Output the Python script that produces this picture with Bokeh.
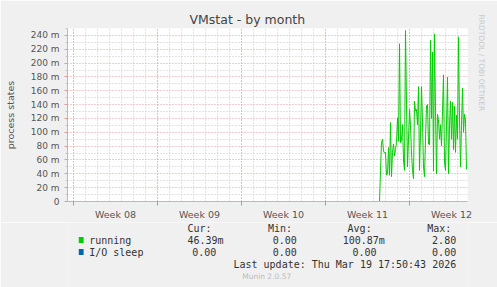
from bokeh.plotting import figure
from bokeh.models import (Range1d, LinearAxis, FixedTicker, Title)
from bokeh.layouts import column
from bokeh.core.properties import value
from bokeh.embed import file_html
from bokeh.resources import INLINE

# ---------------- data ----------------
title_text = "VMstat - by month"
y_label = "process states"
week_labels = ["Week 08", "Week 09", "Week 10", "Week 11", "Week 12"]
y_ticks = [0, 20, 40, 60, 80, 100, 120, 140, 160, 180, 200, 220, 240]
y_tick_labels = ["0", "20 m", "40 m", "60 m", "80 m", "100 m", "120 m", "140 m",
                 "160 m", "180 m", "200 m", "220 m", "240 m"]
start_hour = 612          # hours after Monday of Week 08
step_hours = 2
running = [0, 45, 85, 90, 73, 70, 71, 38, 40, 78,
           38, 114, 36, 71, 83, 66, 75, 85, 121, 87,
           228, 85, 88, 111, 60, 45, 247, 140, 50, 90,
           133, 110, 70, 45, 33, 145, 131, 133, 111, 166,
           45, 100, 166, 115, 50, 36, 90, 138, 140, 83,
           82, 233, 120, 216, 44, 242, 130, 40, 126, 118,
           90, 111, 80, 130, 183, 56, 45, 110, 180, 40,
           110, 145, 90, 143, 75, 138, 71, 125, 90, 238,
           120, 50, 110, 164, 100, 126, 118, 46.39]
io_sleep = [0] * len(running)
series_names = ["running", "I/O sleep"]
series_colors = ["#00CC00", "#0066B3"]
stat_headers = ["Cur:", "Min:", "Avg:", "Max:"]
stats_running = ["46.39m", "0.00", "100.87m", "2.80"]
stats_io = ["0.00", "0.00", "0.00", "0.00"]
last_update = "Last update: Thu Mar 19 17:50:43 2026"
footer = "Munin 2.0.57"
side_text = "RRDTOOL / TOBI OETIKER"

hours = [start_hour + step_hours * i for i in range(len(running))]

# ---------------- main chart ----------------
BG = "#F0F0F0"
MAIN_H = 222
p = figure(width=497, height=MAIN_H, output_backend="svg", toolbar_location=None,
           x_range=Range1d(-12, 788), y_range=Range1d(0, 250),
           x_axis_location=None, y_axis_location=None, title=None,
           min_border_left=67, min_border_right=30, min_border_top=28,
           min_border_bottom=19, background_fill_color="white",
           border_fill_color=BG, outline_line_color=None)

week_bounds = [168 * i for i in range(len(week_labels))]
week_centers = [168 * i + 84 for i in range(len(week_labels))]
days = [24 * i for i in range(0, 33)]
y_minor = [v + 10 for v in y_ticks]

GRID_MAJ = "#E49A9A"
GRID_MIN = "#C8C8C8"
p.xgrid.ticker = FixedTicker(ticks=week_bounds, minor_ticks=days)
p.xgrid.grid_line_color = GRID_MAJ
p.xgrid.grid_line_dash = "1 2"
p.xgrid.minor_grid_line_color = GRID_MIN
p.xgrid.minor_grid_line_dash = "1 2"
p.ygrid.ticker = FixedTicker(ticks=y_ticks[1:], minor_ticks=y_minor)
p.ygrid.grid_line_color = GRID_MAJ
p.ygrid.grid_line_dash = "1 2"
p.ygrid.minor_grid_line_color = GRID_MIN
p.ygrid.minor_grid_line_dash = "1 2"

AXIS = "#B4B4EC"
yax = LinearAxis(ticker=FixedTicker(ticks=y_ticks, minor_ticks=y_minor),
                 major_label_overrides={t: l for t, l in zip(y_ticks, y_tick_labels)},
                 axis_line_color=AXIS, major_tick_line_color=GRID_MAJ,
                 major_tick_in=0, major_tick_out=3, minor_tick_in=0, minor_tick_out=2,
                 minor_tick_line_color=GRID_MIN,
                 major_label_text_font="DejaVu Sans", major_label_text_font_size="9px",
                 major_label_text_color="#555555", major_label_standoff=5,
                 axis_label=y_label, axis_label_text_font="DejaVu Sans",
                 axis_label_text_font_size="9.5px", axis_label_text_font_style="normal",
                 axis_label_text_color="#555555", axis_label_standoff=12)
p.add_layout(yax, "left")

xax = LinearAxis(ticker=FixedTicker(ticks=week_centers, minor_ticks=week_bounds),
                 major_label_overrides={t: l for t, l in zip(week_centers, week_labels)},
                 axis_line_color=AXIS, major_tick_line_color=None,
                 minor_tick_line_color="#E08080", minor_tick_in=0, minor_tick_out=4,
                 major_label_text_font="DejaVu Sans", major_label_text_font_size="9.5px",
                 major_label_text_color="#555555", major_label_standoff=1)
p.add_layout(xax, "below")

p.add_layout(Title(text=title_text, align="left", offset=122, standoff=3,
                   text_font="DejaVu Sans", text_font_size="12.5px",
                   text_font_style="normal", text_color="#444444"), "above")
p.add_layout(Title(text=side_text, align="left", offset=-14, standoff=19,
                   text_font="DejaVu Sans", text_font_size="7.5px",
                   text_font_style="normal", text_color="#C8C8C8"), "right")

p.line(hours, running, line_color=series_colors[0], line_width=1)
p.line(hours, io_sleep, line_color=series_colors[1], line_width=1)

# ---------------- legend panel (canvas-like coordinates) ----------------
LEG_H = 287 - MAIN_H
q = figure(width=497, height=LEG_H, output_backend="svg", toolbar_location=None,
           x_range=Range1d(0, 497), y_range=Range1d(287, MAIN_H),
           x_axis_location=None, y_axis_location=None,
           min_border=0, min_border_left=0, min_border_right=0,
           min_border_top=0, min_border_bottom=0,
           background_fill_color=BG, border_fill_color=BG, outline_line_color=None)
q.xgrid.visible = False
q.ygrid.visible = False

MONO = value("DejaVu Sans Mono")
row_y = [239.5, 251.5]
texts, tx, ty = [], [], []
for t, x in zip(stat_headers, [149, 249, 348, 447]):
    texts.append(t); tx.append(x); ty.append(228)
for name, y in zip(series_names, row_y):
    texts.append(name); tx.append(27); ty.append(y)
for t, x in zip(stats_running, [149, 255, 342, 453]):
    texts.append(t); tx.append(x); ty.append(row_y[0])
for t, x in zip(stats_io, [155, 255, 354, 453]):
    texts.append(t); tx.append(x); ty.append(row_y[1])
q.text(x=tx, y=ty, text=texts, text_font=MONO, text_font_size="10px",
       text_color="#333333", text_baseline="middle", text_align="left")
q.text(x=[483], y=[263.7], text=[last_update], text_font=MONO, text_font_size="10px",
       text_color="#333333", text_baseline="middle", text_align="right")
q.text(x=[247.5], y=[276], text=[footer], text_font=value("DejaVu Sans"),
       text_font_size="7.5px", text_color="#BBBBBB", text_baseline="middle",
       text_align="center")
q.rect(x=[17, 17], y=row_y, width=6, height=6, fill_color=series_colors,
       line_color=None)

open("out.html", "w").write(file_html(column(p, q, spacing=0), INLINE))
